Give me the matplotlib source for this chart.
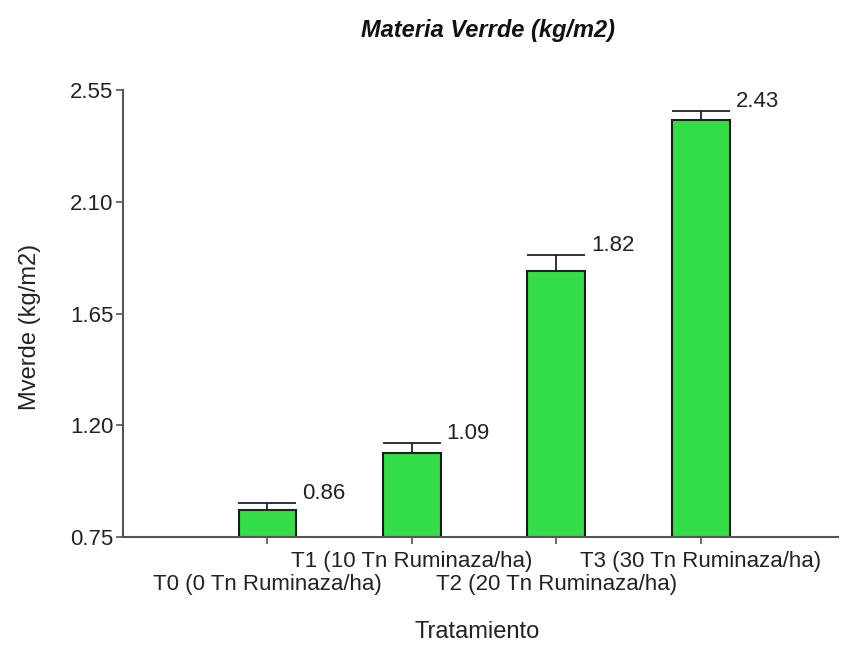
import numpy as np
import matplotlib.pyplot as plt

plt.rcParams['font.family'] = ['Liberation Sans', 'DejaVu Sans']

categories = ['T0 (0 Tn Ruminaza/ha)', 'T1 (10 Tn Ruminaza/ha)',
              'T2 (20 Tn Ruminaza/ha)', 'T3 (30 Tn Ruminaza/ha)']
values = [0.86, 1.09, 1.82, 2.43]
errors = [0.027, 0.04, 0.066, 0.036]
labels = ['0.86', '1.09', '1.82', '2.43']
yticks = [0.75, 1.20, 1.65, 2.10, 2.55]

x = np.arange(1, len(categories) + 1)

fig = plt.figure(figsize=(8.41, 6.46), dpi=100)
ax = fig.add_axes([0.1463, 0.1687, 0.850, 0.692])

ax.bar(x, values, width=0.4, color='#33dd48', edgecolor='#1a1a1a', linewidth=1.5,
       zorder=2)
ax.errorbar(x, values, yerr=[np.zeros(len(errors)), errors], fmt='none',
            ecolor='#222222', elinewidth=1.3, capsize=21, capthick=1.3, zorder=3)

for xi, v, e, lab in zip(x, values, errors, labels):
    ax.annotate(lab, (xi + 0.2, v + e), xytext=(6, 9), textcoords='offset pixels',
                ha='left', va='center', fontsize=16, color='#222222')

ax.set_xlim(0, 4.95)
ax.set_ylim(0.75, 2.55)
ax.set_yticks(yticks)
ax.set_yticklabels(['%.2f' % t for t in yticks])
ax.set_xticks(x)
ax.set_xticklabels(categories, fontsize=16)
for i, t in enumerate(ax.get_xticklabels()):
    if i % 2 == 0:
        t.set_y(-0.052)

ax.spines['top'].set_visible(False)
ax.spines['right'].set_visible(False)
for s in ['left', 'bottom']:
    ax.spines[s].set_color('#555555')
    ax.spines[s].set_linewidth(1.5)
ax.tick_params(axis='both', direction='out', length=5, width=1.2, color='#555555',
               labelcolor='#222222')
ax.tick_params(axis='y', labelsize=16, pad=2)
ax.tick_params(axis='x', pad=5)

fig.text(0.036, 0.494, 'Mverde (kg/m2)', rotation=90, ha='center', va='center',
         fontsize=17, color='#222222')
fig.text(0.567, 0.021, 'Tratamiento', ha='center', va='center',
         fontsize=17, color='#222222')
fig.text(0.58, 0.953, 'Materia Verrde (kg/m2)', ha='center', va='center',
         fontsize=17, fontweight='bold', fontstyle='italic', color='#111111')

fig.savefig('out.png', dpi=100)
